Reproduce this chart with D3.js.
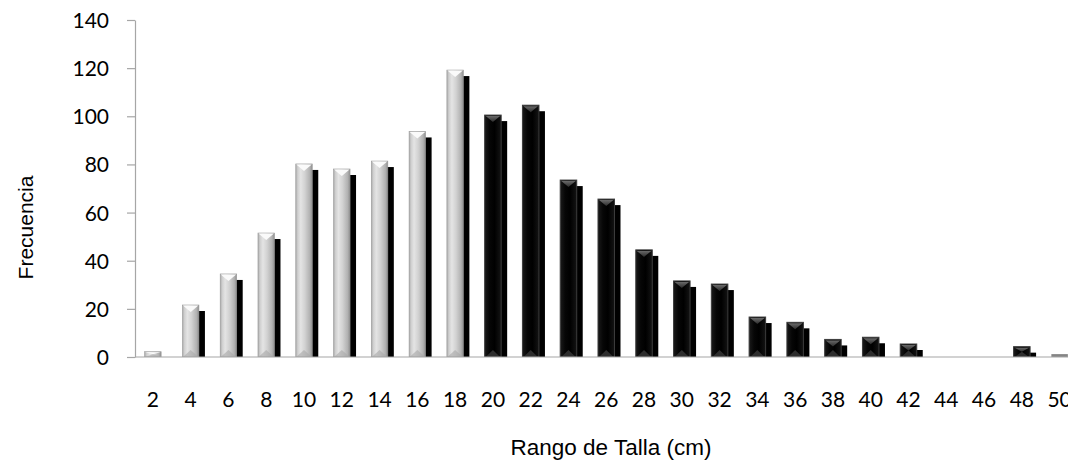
<!DOCTYPE html>
<html>
<head>
<meta charset="utf-8">
<script src="https://cdn.jsdelivr.net/npm/d3@7"></script>
<style>
  html, body { margin: 0; padding: 0; background: #fff; overflow: hidden; }
  svg { display: block; }
</style>
</head>
<body>
<svg id="chart" width="1068" height="464"></svg>
<script>
// ---- Data ----
const categories = [2, 4, 6, 8, 10, 12, 14, 16, 18, 20, 22, 24, 26, 28, 30, 32, 34, 36, 38, 40, 42, 44, 46, 48, 50];
const frecuencia = [2.2, 21.6, 34.5, 51.5, 80.2, 78.1, 81.4, 93.7, 119.2, 100.5, 104.6, 73.5, 65.6, 44.5, 31.6, 30.3, 16.6, 14.4, 7.3, 8.2, 5.4, 0, 0, 4.3, 1.2];
const yTicks = [0, 20, 40, 60, 80, 100, 120, 140];
const xTitle = "Rango de Talla (cm)";
const yTitle = "Frecuencia";

// ---- Layout ----
const W = 1068, H = 464;
const left = 134, step = 37.78;
const yBottom = 357, yTop = 20;

const svg = d3.select("#chart");
const defs = svg.append("defs");

const x = d3.scaleBand()
  .domain(categories)
  .range([left, left + categories.length * step])
  .paddingInner(0.563)
  .paddingOuter(0.563 / 2);

const y = d3.scaleLinear().domain([0, 140]).range([yBottom, yTop]);

// gradients
const gLight = defs.append("linearGradient").attr("id", "gLight").attr("x1", "0").attr("x2", "1").attr("y1", "0").attr("y2", "0");
[["0%", "#a9a9a9"], ["12%", "#cfcfcf"], ["30%", "#e4e4e4"], ["55%", "#d2d2d2"], ["85%", "#b2b2b2"], ["100%", "#8e8e8e"]]
  .forEach(([o, c]) => gLight.append("stop").attr("offset", o).attr("stop-color", c));
const gDark = defs.append("linearGradient").attr("id", "gDark").attr("x1", "0").attr("x2", "1").attr("y1", "0").attr("y2", "0");
[["0%", "#1a1a1a"], ["30%", "#060606"], ["60%", "#000"], ["100%", "#141414"]]
  .forEach(([o, c]) => gDark.append("stop").attr("offset", o).attr("stop-color", c));
const gDarkTop = defs.append("linearGradient").attr("id", "gDarkTop").attr("x1", "0").attr("x2", "0").attr("y1", "0").attr("y2", "1");
[["0%", "#6a6a6a"], ["100%", "#2a2a2a"]]
  .forEach(([o, c]) => gDarkTop.append("stop").attr("offset", o).attr("stop-color", c));

defs.append("clipPath").attr("id", "plotClip")
  .append("rect").attr("x", left).attr("y", 0).attr("width", W - left).attr("height", yBottom);

function tone(cat) {
  if (cat === 50) return "mid";
  return cat <= 18 ? "light" : "dark";
}

const data = categories.map((c, i) => ({ cat: c, v: frecuencia[i] })).filter(d => d.v > 0);

// ---- Axes ----
const yAxis = d3.axisLeft(y).tickValues(yTicks).tickSize(8).tickSizeOuter(0).tickPadding(18);
const gy = svg.append("g").attr("transform", `translate(${left + 1},0)`).call(yAxis);
gy.selectAll("path, line").attr("stroke", "#a6a6a6").attr("stroke-width", 1.2);
gy.selectAll("text").attr("font-family", "Lato, 'Open Sans', sans-serif").attr("font-size", 21).attr("fill", "#000").attr("dy", "0.36em");

// bars
const plot = svg.append("g").attr("clip-path", "url(#plotClip)");
const bw = x.bandwidth();
const sdx = 6, sdy = 6;

data.forEach(d => {
  const x0 = x(d.cat), y0 = y(d.v), h = yBottom - y0;
  const t = tone(d.cat);
  const g = plot.append("g");
  // shadow
  if (t !== "mid") {
    g.append("rect").attr("x", x0 + sdx).attr("y", y0 + sdy).attr("width", bw).attr("height", Math.max(0, h))
      .attr("fill", "#000");
  }
  const bev = Math.min(7, h / 2);
  if (t === "light") {
    g.append("rect").attr("x", x0).attr("y", y0).attr("width", bw).attr("height", h)
      .attr("fill", "url(#gLight)").attr("stroke", "#9a9a9a").attr("stroke-width", 0.6);
    g.append("path").attr("d", `M${x0 + 0.5},${y0 + 0.5}L${x0 + bw - 0.5},${y0 + 0.5}L${x0 + bw / 2},${y0 + bev}Z`)
      .attr("fill", "#fafafa");
    g.append("path").attr("d", `M${x0 + 0.5},${yBottom}L${x0 + bw - 0.5},${yBottom}L${x0 + bw / 2},${yBottom - bev}Z`)
      .attr("fill", "#a8a8a8").attr("opacity", 0.6);
  } else if (t === "dark") {
    g.append("rect").attr("x", x0).attr("y", y0).attr("width", bw).attr("height", h)
      .attr("fill", "url(#gDark)").attr("stroke", "#3c3c3c").attr("stroke-width", 1);
    g.append("path").attr("d", `M${x0 + 1},${y0 + 1}L${x0 + bw - 1},${y0 + 1}L${x0 + bw / 2},${y0 + bev}Z`)
      .attr("fill", "url(#gDarkTop)");
    g.append("path").attr("d", `M${x0 + 1},${yBottom}L${x0 + bw - 1},${yBottom}L${x0 + bw / 2},${yBottom - bev}Z`)
      .attr("fill", "#2e2e2e");
  } else {
    g.append("rect").attr("x", x0).attr("y", y0).attr("width", bw).attr("height", h)
      .attr("fill", "#858585");
  }
});

// x axis line
svg.append("line").attr("x1", left + 1).attr("x2", W).attr("y1", yBottom).attr("y2", yBottom)
  .attr("stroke", "#a6a6a6").attr("stroke-width", 1.2);

const xAxis = d3.axisBottom(x).tickSize(0).tickPadding(0);
const gx = svg.append("g").attr("transform", `translate(0,${yBottom})`).call(xAxis);
gx.select(".domain").remove();
gx.selectAll("text").attr("font-family", "Lato, 'Open Sans', sans-serif").attr("font-size", 21).attr("fill", "#000")
  .attr("y", 50).attr("dy", 0);

// titles
svg.append("text").attr("x", 611).attr("y", 455).attr("text-anchor", "middle")
  .attr("font-family", "'Liberation Sans', Arial, sans-serif").attr("font-size", 22.5).attr("fill", "#000")
  .text(xTitle);
svg.append("text").attr("transform", "translate(33,227.5) rotate(-90)").attr("text-anchor", "middle")
  .attr("font-family", "'Liberation Sans', Arial, sans-serif").attr("font-size", 21).attr("fill", "#000")
  .text(yTitle);
</script>
</body>
</html>
